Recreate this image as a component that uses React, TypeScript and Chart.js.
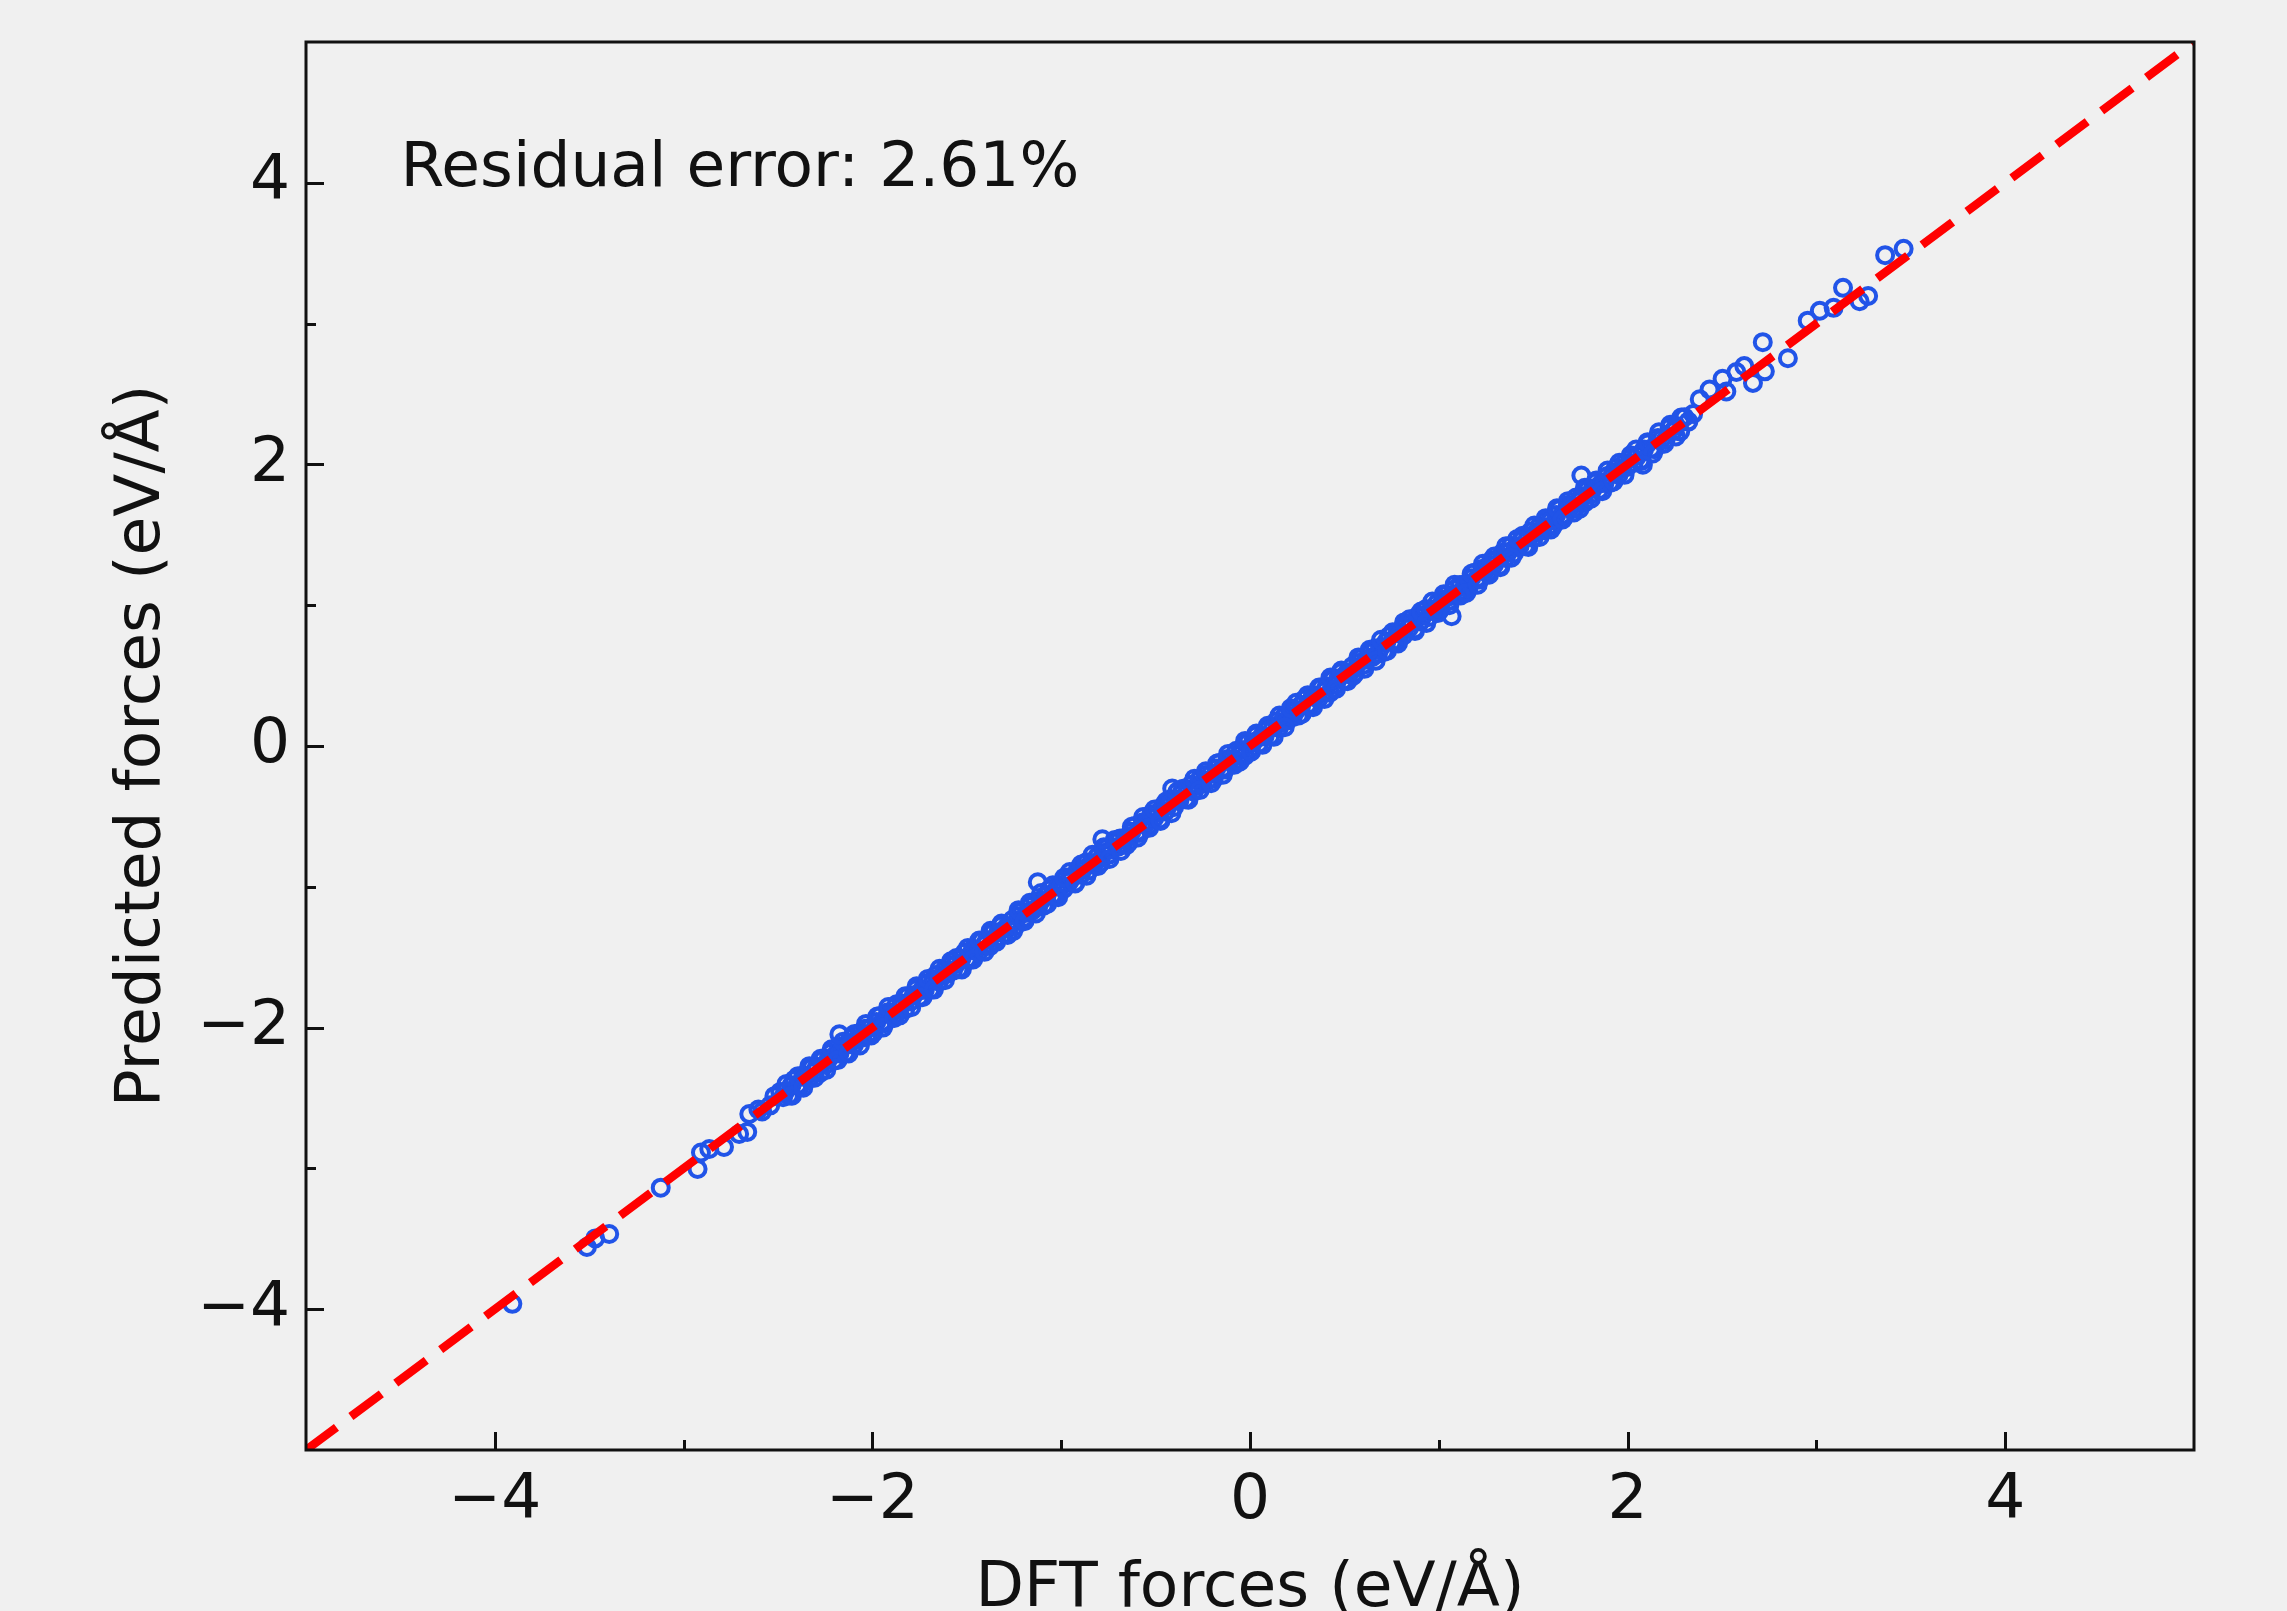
import { useEffect, useRef } from 'react';
import { Chart, registerables } from 'chart.js';

Chart.register(...registerables);

// ---- data ----
const dftForces = [
  // sparse low end
  -3.907, -3.512, -3.468, -3.394, -3.121, -2.926, -2.908, -2.864, -2.786, -2.706, -2.663, -2.652, -2.604, -2.584, -2.541, -2.519,
  // dense band, core
  -2.488, -2.473, -2.461, -2.442, -2.428, -2.413, -2.397, -2.384, -2.366, -2.352,
  -2.337, -2.321, -2.309, -2.293, -2.276, -2.262, -2.248, -2.231, -2.219, -2.203,
  -2.188, -2.174, -2.157, -2.143, -2.129, -2.112, -2.098, -2.083, -2.067, -2.054,
  -2.039, -2.022, -2.008, -1.993, -1.979, -1.962, -1.948, -1.934, -1.917, -1.903,
  -1.887, -1.872, -1.858, -1.843, -1.826, -1.813, -1.797, -1.782, -1.768, -1.751,
  -1.738, -1.722, -1.707, -1.693, -1.676, -1.663, -1.647, -1.632, -1.618, -1.602,
  -1.589, -1.573, -1.557, -1.544, -1.528, -1.512, -1.499, -1.483, -1.468, -1.452,
  -1.438, -1.421, -1.407, -1.392, -1.378, -1.361, -1.347, -1.333, -1.316, -1.302,
  -1.287, -1.271, -1.258, -1.242, -1.227, -1.213, -1.196, -1.182, -1.167, -1.153,
  -1.138, -1.122, -1.108, -1.093, -1.077, -1.063, -1.048, -1.031, -1.017, -1.002,
  -0.987, -0.972, -0.956, -0.943, -0.927, -0.911, -0.897, -0.882, -0.866, -0.853,
  -0.837, -0.822, -0.808, -0.791, -0.777, -0.762, -0.746, -0.733, -0.717, -0.702,
  -0.688, -0.673, -0.657, -0.642, -0.628, -0.611, -0.597, -0.583, -0.567, -0.552,
  -0.538, -0.522, -0.507, -0.493, -0.478, -0.462, -0.447, -0.433, -0.418, -0.402,
  -0.387, -0.373, -0.358, -0.341, -0.327, -0.312, -0.298, -0.282, -0.267, -0.253,
  -0.237, -0.223, -0.207, -0.192, -0.178, -0.163, -0.147, -0.132, -0.118, -0.103,
  -0.088, -0.072, -0.058, -0.043, -0.027, -0.013, 0.002, 0.017, 0.033, 0.047,
  0.062, 0.078, 0.093, 0.107, 0.122, 0.138, 0.153, 0.167, 0.183, 0.198,
  0.213, 0.227, 0.243, 0.258, 0.272, 0.288, 0.303, 0.317, 0.333, 0.348,
  0.362, 0.378, 0.393, 0.407, 0.423, 0.438, 0.452, 0.468, 0.483, 0.497,
  0.512, 0.528, 0.542, 0.557, 0.573, 0.588, 0.602, 0.617, 0.633, 0.647,
  0.662, 0.678, 0.692, 0.708, 0.723, 0.737, 0.752, 0.768, 0.782, 0.797,
  0.813, 0.827, 0.842, 0.858, 0.872, 0.887, 0.903, 0.917, 0.932, 0.948,
  0.962, 0.977, 0.993, 1.008, 1.022, 1.037, 1.053, 1.067, 1.082, 1.098,
  1.112, 1.127, 1.143, 1.157, 1.172, 1.188, 1.203, 1.217, 1.232, 1.248,
  1.263, 1.277, 1.292, 1.308, 1.322, 1.338, 1.353, 1.367, 1.382, 1.398,
  1.412, 1.428, 1.443, 1.457, 1.473, 1.487, 1.502, 1.518, 1.533, 1.547,
  1.562, 1.578, 1.593, 1.607, 1.622, 1.638, 1.652, 1.667, 1.683, 1.698,
  1.713, 1.727, 1.742, 1.758, 1.772, 1.788, 1.803, 1.817, 1.833, 1.848,
  1.862, 1.878, 1.893, 1.907, 1.923, 1.938, 1.952, 1.968, 1.983, 1.997,
  2.013, 2.032, 2.051, 2.068, 2.087, 2.106, 2.124, 2.143, 2.161, 2.182,
  2.201, 2.223, 2.242, 2.258, 2.279, 2.301, 2.322, 2.347,
  // dense band, outer edges
  -2.455, -2.426, -2.394, -2.366, -2.334, -2.306, -2.274, -2.244, -2.216, -2.184,
  -2.155, -2.126, -2.094, -2.066, -2.034, -2.006, -1.974, -1.944, -1.916, -1.884,
  -1.855, -1.826, -1.794, -1.766, -1.734, -1.706, -1.674, -1.644, -1.616, -1.584,
  -1.555, -1.526, -1.494, -1.466, -1.434, -1.406, -1.374, -1.344, -1.316, -1.284,
  -1.255, -1.226, -1.194, -1.166, -1.134, -1.106, -1.074, -1.044, -1.016, -0.984,
  -0.955, -0.926, -0.894, -0.866, -0.834, -0.806, -0.774, -0.744, -0.716, -0.684,
  -0.655, -0.626, -0.594, -0.566, -0.534, -0.506, -0.474, -0.444, -0.416, -0.384,
  -0.355, -0.326, -0.294, -0.266, -0.234, -0.206, -0.174, -0.144, -0.116, -0.084,
  -0.055, -0.026, 0.006, 0.034, 0.066, 0.094, 0.126, 0.156, 0.184, 0.216,
  0.245, 0.274, 0.306, 0.334, 0.366, 0.394, 0.426, 0.456, 0.484, 0.516,
  0.545, 0.574, 0.606, 0.634, 0.666, 0.694, 0.726, 0.756, 0.784, 0.816,
  0.845, 0.874, 0.906, 0.934, 0.966, 0.994, 1.026, 1.056, 1.084, 1.116,
  1.145, 1.174, 1.206, 1.234, 1.266, 1.294, 1.326, 1.356, 1.384, 1.416,
  1.445, 1.474, 1.506, 1.534, 1.566, 1.594, 1.626, 1.656, 1.684, 1.716,
  1.745, 1.774, 1.806, 1.834, 1.866, 1.894, 1.926, 1.956, 1.984, 2.016,
  2.045, 2.074, 2.106, 2.134, 2.166, 2.194, 2.226, 2.256, 2.284,
  // outliers inside the band range
  -2.175, -1.124, -0.782, -0.412, 1.068, 1.755, 2.081,
  // sparse high end
  2.382, 2.434, 2.503, 2.523, 2.576, 2.618, 2.664, 2.716, 2.727, 2.849, 2.954, 3.018, 3.091, 3.141, 3.229, 3.274, 3.364, 3.462,
];

const predictedForces = [
  -3.962, -3.558, -3.497, -3.466, -3.137, -3.004, -2.887, -2.862, -2.848, -2.756, -2.741, -2.614, -2.582, -2.596, -2.552, -2.487,
  -2.457, -2.495, -2.453, -2.483, -2.409, -2.370, -2.410, -2.419, -2.340, -2.350,
  -2.365, -2.283, -2.315, -2.278, -2.320, -2.228, -2.266, -2.220, -2.178, -2.234,
  -2.183, -2.183, -2.133, -2.181, -2.112, -2.076, -2.123, -2.085, -2.038, -2.070,
  -2.008, -2.044, -2.000, -2.034, -1.960, -1.919, -1.961, -1.969, -1.891, -1.901,
  -1.915, -1.834, -1.864, -1.828, -1.870, -1.779, -1.815, -1.771, -1.727, -1.782,
  -1.733, -1.731, -1.683, -1.731, -1.659, -1.627, -1.672, -1.634, -1.589, -1.618,
  -1.558, -1.595, -1.549, -1.585, -1.509, -1.469, -1.512, -1.518, -1.442, -1.450,
  -1.466, -1.383, -1.413, -1.377, -1.422, -1.327, -1.365, -1.322, -1.275, -1.333,
  -1.282, -1.280, -1.234, -1.280, -1.210, -1.177, -1.221, -1.184, -1.138, -1.169,
  -1.107, -1.144, -1.100, -1.134, -1.058, -1.020, -1.061, -1.066, -0.991, -1.000,
  -1.015, -0.934, -0.962, -0.928, -0.971, -0.877, -0.915, -0.871, -0.825, -0.884,
  -0.832, -0.831, -0.784, -0.829, -0.760, -0.726, -0.771, -0.735, -0.688, -0.718,
  -0.657, -0.695, -0.649, -0.683, -0.609, -0.568, -0.610, -0.618, -0.541, -0.550,
  -0.566, -0.484, -0.513, -0.478, -0.522, -0.428, -0.465, -0.422, -0.377, -0.433,
  -0.382, -0.382, -0.334, -0.379, -0.310, -0.276, -0.323, -0.284, -0.238, -0.269,
  -0.206, -0.245, -0.199, -0.233, -0.159, -0.120, -0.160, -0.167, -0.092, -0.101,
  -0.116, -0.034, -0.064, -0.028, -0.071, 0.021, -0.016, 0.028, 0.074, 0.016,
  0.067, 0.069, 0.117, 0.069, 0.139, 0.174, 0.128, 0.165, 0.212, 0.182,
  0.244, 0.205, 0.251, 0.217, 0.291, 0.331, 0.290, 0.282, 0.359, 0.350,
  0.334, 0.416, 0.387, 0.422, 0.379, 0.472, 0.434, 0.479, 0.524, 0.466,
  0.517, 0.519, 0.566, 0.519, 0.590, 0.624, 0.577, 0.615, 0.662, 0.631,
  0.693, 0.656, 0.700, 0.667, 0.742, 0.780, 0.739, 0.733, 0.808, 0.799,
  0.785, 0.865, 0.836, 0.873, 0.828, 0.921, 0.885, 0.928, 0.973, 0.917,
  0.967, 0.968, 1.017, 0.970, 1.039, 1.073, 1.028, 1.065, 1.111, 1.082,
  1.143, 1.105, 1.151, 1.116, 1.191, 1.231, 1.190, 1.182, 1.258, 1.250,
  1.235, 1.315, 1.286, 1.323, 1.278, 1.372, 1.335, 1.378, 1.423, 1.367,
  1.417, 1.419, 1.467, 1.419, 1.490, 1.523, 1.477, 1.516, 1.562, 1.531,
  1.593, 1.556, 1.601, 1.566, 1.641, 1.681, 1.639, 1.632, 1.709, 1.700,
  1.685, 1.765, 1.736, 1.773, 1.728, 1.822, 1.785, 1.828, 1.874, 1.817,
  1.867, 1.869, 1.917, 1.869, 1.940, 1.974, 1.927, 1.966, 2.012, 1.981,
  2.044, 2.010, 2.059, 2.027, 2.106, 2.149, 2.111, 2.108, 2.187, 2.184,
  2.173, 2.261, 2.236, 2.273, 2.235, 2.335, 2.304, 2.358,
  -2.400, -2.484, -2.345, -2.427, -2.274, -2.356, -2.222, -2.300, -2.154, -2.231,
  -2.100, -2.184, -2.045, -2.127, -1.974, -2.056, -1.922, -2.000, -1.854, -1.931,
  -1.913, -1.777, -1.855, -1.706, -1.784, -1.654, -1.730, -1.582, -1.663, -1.529,
  -1.506, -1.587, -1.434, -1.516, -1.382, -1.462, -1.312, -1.391, -1.261, -1.342,
  -1.316, -1.166, -1.244, -1.114, -1.190, -1.044, -1.121, -0.989, -1.074, -0.935,
  -0.895, -0.976, -0.842, -0.922, -0.772, -0.853, -0.719, -0.802, -0.667, -0.745,
  -0.705, -0.574, -0.650, -0.504, -0.581, -0.451, -0.532, -0.395, -0.477, -0.324,
  -0.303, -0.382, -0.232, -0.313, -0.179, -0.264, -0.125, -0.205, -0.056, -0.134,
  -0.111, 0.036, -0.041, 0.089, 0.008, 0.143, 0.065, 0.216, 0.134, 0.268,
  0.307, 0.227, 0.361, 0.276, 0.415, 0.333, 0.486, 0.406, 0.536, 0.460,
  0.498, 0.629, 0.548, 0.683, 0.605, 0.754, 0.676, 0.808, 0.728, 0.878,
  0.900, 0.816, 0.955, 0.873, 1.026, 0.944, 1.078, 1.000, 1.146, 1.069,
  1.087, 1.223, 1.145, 1.294, 1.216, 1.346, 1.270, 1.418, 1.337, 1.471,
  1.494, 1.413, 1.566, 1.484, 1.618, 1.538, 1.688, 1.609, 1.739, 1.658,
  1.684, 1.834, 1.756, 1.886, 1.810, 1.956, 1.879, 2.011, 1.926, 2.065,
  2.105, 2.024, 2.158, 2.078, 2.228, 2.147, 2.281, 2.198, 2.333,
  -2.048, -0.968, -0.662, -0.302, 0.922, 1.921, 1.998,
  2.462, 2.532, 2.608, 2.518, 2.656, 2.698, 2.579, 2.868, 2.661, 2.754, 3.021, 3.091, 3.112, 3.254, 3.159, 3.196, 3.486, 3.531,
];

const parityX = [-5, 5];
const parityY = [-5, 5];
const axisMin = -5;
const axisMax = 5;
const majorTicks = [-4, -2, 0, 2, 4];
const majorTickLabels = ['\u22124', '\u22122', '0', '2', '4'];
const minorTicks = [-3, -1, 1, 3];
const xTitle = 'DFT forces (eV/\u00c5)';
const yTitle = 'Predicted forces (eV/\u00c5)';
const residualText = 'Residual error: 2.61%';

const W = 2287;
const H = 1611;
const FONT = 'DejaVu Sans';
const INK = '#111111';
const BG = '#f0f0f0';

const framePlugin = {
  id: 'mplFrame',
  beforeDraw(chart: any) {
    const { ctx } = chart;
    ctx.save();
    ctx.fillStyle = BG;
    ctx.fillRect(0, 0, chart.width, chart.height);
    ctx.restore();
  },
  afterDraw(chart: any) {
    const { ctx, chartArea } = chart;
    const { left, right, top, bottom } = chartArea;
    const xs = chart.scales.x;
    const ys = chart.scales.y;
    ctx.save();
    ctx.strokeStyle = INK;
    ctx.lineWidth = 3;
    ctx.lineCap = 'butt';
    const drawX = (v: number, len: number) => {
      const px = Math.round(xs.getPixelForValue(v)) + 0.5;
      ctx.beginPath();
      ctx.moveTo(px, bottom);
      ctx.lineTo(px, bottom - len);
      ctx.stroke();
    };
    const drawY = (v: number, len: number) => {
      const py = Math.round(ys.getPixelForValue(v)) + 0.5;
      ctx.beginPath();
      ctx.moveTo(left, py);
      ctx.lineTo(left + len, py);
      ctx.stroke();
    };
    majorTicks.forEach((v) => { drawX(v, 18); drawY(v, 18); });
    minorTicks.forEach((v) => { drawX(v, 10); drawY(v, 10); });
    ctx.strokeRect(left, top, right - left, bottom - top);
    ctx.fillStyle = INK;
    ctx.font = `63px "${FONT}"`;
    ctx.textAlign = 'left';
    ctx.textBaseline = 'alphabetic';
    ctx.fillText(residualText, left + 0.05 * (right - left), top + 0.102 * (bottom - top));
    ctx.restore();
  },
};

export default function App() {
  const canvasRef = useRef<HTMLCanvasElement | null>(null);

  useEffect(() => {
    const canvas = canvasRef.current;
    if (!canvas) return;
    const scatterPoints = dftForces.map((x, i) => ({ x, y: predictedForces[i] }));
    const parityPoints = parityX.map((x, i) => ({ x, y: parityY[i] }));
    const tickFont = { family: FONT, size: 63 };

    const chart = new Chart(canvas, {
      type: 'scatter',
      data: {
        datasets: [
          {
            label: 'y = x',
            data: parityPoints,
            showLine: true,
            borderColor: '#ff0000',
            borderWidth: 8.5,
            borderDash: [38, 18],
            borderCapStyle: 'butt',
            pointRadius: 0,
            fill: false,
            clip: 0,
            order: 0,
          } as any,
          {
            label: 'forces',
            data: scatterPoints,
            showLine: false,
            pointStyle: 'circle',
            pointRadius: 8,
            pointBorderWidth: 4,
            pointBackgroundColor: 'rgba(0,0,0,0)',
            pointBorderColor: '#2154e8',
            borderColor: '#2154e8',
            backgroundColor: 'rgba(0,0,0,0)',
            clip: 0,
            order: 1,
          } as any,
        ],
      },
      options: {
        responsive: false,
        maintainAspectRatio: false,
        devicePixelRatio: 1,
        animation: false,
        events: [],
        layout: { padding: { top: 42, right: 93, left: 0, bottom: 0 } },
        plugins: { legend: { display: false }, tooltip: { enabled: false } },
        scales: {
          x: {
            type: 'linear',
            position: 'bottom',
            min: axisMin,
            max: axisMax,
            grid: { display: false, drawTicks: false },
            border: { display: false },
            afterBuildTicks: (s: any) => { s.ticks = majorTicks.map((value) => ({ value })); },
            afterFit: (s: any) => {
              s.height = H - 1450;
              s.paddingLeft = 0;
              s.paddingRight = 0;
              s.paddingTop = 0;
              s.paddingBottom = 0;
            },
            ticks: {
              font: tickFont,
              color: INK,
              padding: 14,
              maxRotation: 0,
              autoSkip: false,
              callback: (_v: any, i: number) => majorTickLabels[i],
            },
            title: {
              display: true,
              text: xTitle,
              color: INK,
              font: { family: FONT, size: 63 },
              padding: { top: 0, bottom: -16 },
            },
          },
          y: {
            type: 'linear',
            position: 'left',
            min: axisMin,
            max: axisMax,
            grid: { display: false, drawTicks: false },
            border: { display: false },
            afterBuildTicks: (s: any) => { s.ticks = majorTicks.map((value) => ({ value })); },
            afterFit: (s: any) => {
              s.width = 306;
              s.paddingLeft = 0;
              s.paddingRight = 0;
              s.paddingTop = 0;
              s.paddingBottom = 0;
            },
            ticks: {
              font: tickFont,
              color: INK,
              padding: 16,
              autoSkip: false,
              callback: (_v: any, i: number) => majorTickLabels[i],
            },
            title: {
              display: true,
              text: yTitle,
              color: INK,
              font: { family: FONT, size: 63 },
              padding: { top: 105, bottom: 0 },
            },
          },
        },
      } as any,
      plugins: [framePlugin],
    });

    return () => chart.destroy();
  }, []);

  return (
    <div style={{ position: 'fixed', left: 0, top: 0, width: W, height: H, overflow: 'hidden', background: BG }}>
      <canvas ref={canvasRef} width={W} height={H} style={{ display: 'block', width: W, height: H }} />
    </div>
  );
}
